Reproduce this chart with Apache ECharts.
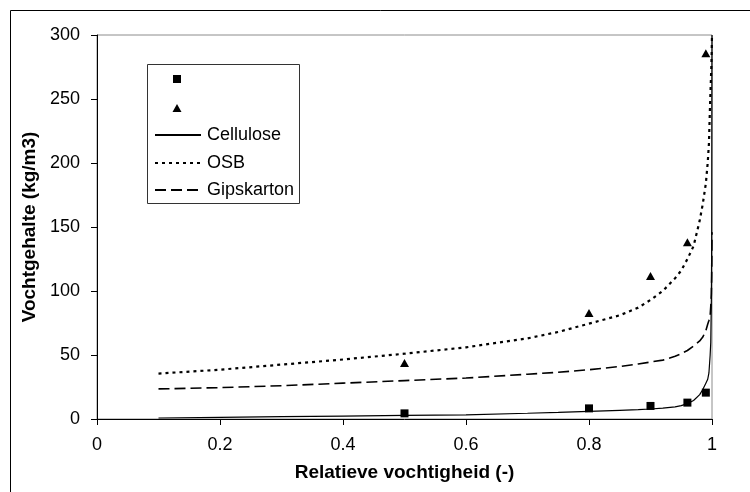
<!DOCTYPE html>
<html>
<head>
<meta charset="utf-8">
<script src="https://cdn.jsdelivr.net/npm/echarts@6/dist/echarts.min.js"></script>
<style>
  html, body { margin: 0; padding: 0; background: #fff; }
  #chart { width: 750px; height: 492px; }
</style>
</head>
<body>
<div id="chart"></div>
<script>
// Sorption isotherms: moisture content vs. relative humidity
const rhCurve = [0.1, 0.2, 0.3, 0.4, 0.5, 0.6, 0.7, 0.75, 0.8, 0.85, 0.88, 0.9, 0.92, 0.94, 0.95, 0.96, 0.97, 0.98, 0.985, 0.99, 0.993, 0.995, 0.997, 0.998, 0.999, 0.9995, 1.0];
const celluloseCurve = [0.8, 1.3, 1.8, 2.3, 2.8, 3.3, 4.5, 5.2, 6.0, 6.8, 7.3, 7.8, 8.5, 9.5, 10.5, 12, 14.5, 19, 23, 28, 31, 36, 50, 60, 95, 140, 300];
const osbCurve = [35.5, 38.5, 42.5, 46.5, 51, 56, 63, 68, 74.5, 81, 87, 93, 100, 110, 116, 125, 135, 155, 168, 184, 200, 215, 248, 262, 276, 287, 300];
const gipsCurve = [23.5, 24.5, 26, 28, 30, 32, 35, 36.5, 38.5, 41, 43, 44.5, 46, 49, 51, 53.5, 57, 61, 64, 69, 74, 77, 81, 88, 98, 112, 146];

// Measured points
const rhMeasured = [0.5, 0.8, 0.9, 0.96, 0.99];
const celluloseMeasured = [4.4, 8.3, 10.2, 12.8, 20.6];
const osbMeasured = [43.7, 82.8, 111.7, 138, 285.7];

const xTicks = [0, 0.2, 0.4, 0.6, 0.8, 1];
const yTicks = [0, 50, 100, 150, 200, 250, 300];

const pair = (xs, ys) => xs.map((x, i) => [x, ys[i]]);
const FONT = 'Liberation Sans, Arial, sans-serif';

const chart = echarts.init(document.getElementById('chart'), null, { renderer: 'canvas' });

function markerLegend(name, top, w, h) {
  return {
    data: [name], left: 177 - w / 2, top: top, padding: 0,
    itemWidth: w, itemHeight: h, selectedMode: false,
    formatter: () => '', z: 10,
    itemStyle: { opacity: 1 },
    textStyle: { fontSize: 1 }
  };
}
function lineLegend(name, top) {
  return {
    data: [name], left: 154, top: top, padding: 0,
    itemWidth: 46, itemHeight: 10, itemGap: 0, selectedMode: false, z: 10,
    itemStyle: { opacity: 0 },
    textStyle: { fontFamily: FONT, fontSize: 18, color: '#000', padding: [0, 0, 0, 1], lineHeight: 20 }
  };
}

chart.setOption({
  animation: false,
  backgroundColor: '#fff',
  textStyle: { fontFamily: FONT },
  grid: { left: 97, right: 38, top: 35, bottom: 73, show: true, borderColor: '#8c8c8c', borderWidth: 1, backgroundColor: 'transparent' },
  graphic: [
    { type: 'rect', left: 8, top: 8, shape: { width: 780, height: 520 }, style: { fill: 'none', stroke: '#000', lineWidth: 1 }, z: -1, silent: true },
    { type: 'rect', left: 147, top: 64, shape: { width: 152, height: 139 }, style: { fill: '#fff', stroke: '#333', lineWidth: 1 }, z: 5, silent: true }
  ],
  legend: [
    markerLegend('Cellulose meting', 75, 8, 8),
    markerLegend('OSB meting', 104, 9, 8),
    lineLegend('Cellulose', 125),
    lineLegend('OSB', 153),
    lineLegend('Gipskarton', 180)
  ],
  xAxis: {
    type: 'value', min: 0, max: 1, interval: 0.2,
    name: 'Relatieve vochtigheid (-)', nameLocation: 'middle', nameGap: 44,
    nameTextStyle: { fontFamily: FONT, fontSize: 19, fontWeight: 'bold', color: '#000' },
    axisLine: { show: true, onZero: false, lineStyle: { color: '#000', width: 1 } },
    axisTick: { show: true, inside: false, length: 6, lineStyle: { color: '#000' } },
    axisLabel: { margin: 17, fontFamily: FONT, fontSize: 18, color: '#000',
      formatter: v => { const t = xTicks.find(k => Math.abs(k - v) < 1e-9); return t === undefined ? '' : String(t); } },
    splitLine: { show: false }
  },
  yAxis: {
    type: 'value', min: 0, max: 300, interval: 50,
    name: 'Vochtgehalte (kg/m3)', nameLocation: 'middle', nameGap: 53,
    nameTextStyle: { fontFamily: FONT, fontSize: 19, fontWeight: 'bold', color: '#000' },
    axisLine: { show: true, lineStyle: { color: '#000', width: 1 } },
    axisTick: { show: true, inside: false, length: 6, lineStyle: { color: '#000' } },
    axisLabel: { margin: 17, fontFamily: FONT, fontSize: 18, color: '#000',
      formatter: v => yTicks.includes(v) ? String(v) : '' },
    splitLine: { show: false }
  },
  series: [
    {
      name: 'Cellulose meting', type: 'scatter', data: pair(rhMeasured, celluloseMeasured),
      symbol: 'rect', symbolSize: 8, itemStyle: { color: '#000', opacity: 1 }, z: 4
    },
    {
      name: 'OSB meting', type: 'scatter', data: pair(rhMeasured, osbMeasured),
      symbol: 'triangle', symbolSize: [9, 8], itemStyle: { color: '#000', opacity: 1 }, z: 4
    },
    {
      name: 'Cellulose', type: 'line', data: pair(rhCurve, celluloseCurve),
      symbol: 'none', showSymbol: false, clip: true,
      lineStyle: { color: '#000', width: 1.2, type: 'solid' }, itemStyle: { color: '#000' }
    },
    {
      name: 'OSB', type: 'line', data: pair(rhCurve, osbCurve),
      symbol: 'none', showSymbol: false, clip: true,
      lineStyle: { color: '#000', width: 2.2, type: [3, 4] }, itemStyle: { color: '#000' }
    },
    {
      name: 'Gipskarton', type: 'line', data: pair(rhCurve, gipsCurve),
      symbol: 'none', showSymbol: false, clip: true,
      lineStyle: { color: '#000', width: 1.6, type: [11, 5] }, itemStyle: { color: '#000' }
    }
  ]
});
</script>
</body>
</html>
